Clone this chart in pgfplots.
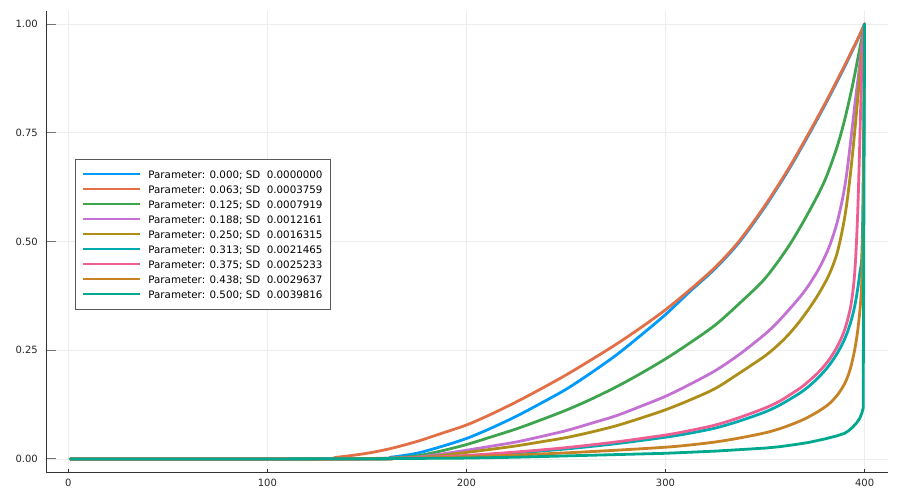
\documentclass[border=0pt]{standalone}
\usepackage{pgfplots}
\pgfplotsset{compat=1.18}
\usepackage{fontspec}
\setmainfont{DejaVu Sans}
\definecolor{jA}{RGB}{0,154,250}
\definecolor{jB}{RGB}{227,111,71}
\definecolor{jC}{RGB}{62,164,78}
\definecolor{jD}{RGB}{195,113,210}
\definecolor{jE}{RGB}{172,142,24}
\definecolor{jF}{RGB}{0,170,174}
\definecolor{jG}{RGB}{237,94,147}
\definecolor{jH}{RGB}{198,130,37}
\definecolor{jI}{RGB}{0,169,141}
\begin{document}
\begin{tikzpicture}
\useasboundingbox (0,0) rectangle (900bp,500bp);
\begin{axis}[
  at={(46.4bp,28bp)}, anchor=south west,
  scale only axis, width=842bp, height=461bp,
  xmin=-10.97, xmax=411.97, ymin=-0.03, ymax=1.03,
  axis x line*=bottom, axis y line*=left,
  axis line style={-, black!80, line width=0.9bp},
  xtick={0,100,200,300,400}, ytick={0,0.25,0.5,0.75,1},
  yticklabel style={/pgf/number format/fixed, /pgf/number format/fixed zerofill, /pgf/number format/precision=2, inner sep=0pt, xshift=-8.4bp},
  xticklabel style={inner sep=0pt, yshift=-7bp},
  /pgf/number format/assume math mode=true,
  tick label style={font=\fontsize{10bp}{12bp}\selectfont, black!85},
  tick align=inside,
  xtick style={black!80, line width=0.8bp},
  ytick style={black!55, line width=1bp},
  x tick style={/pgfplots/major tick length=3.5bp},
  y tick style={/pgfplots/major tick length=10bp},
  grid=major, major grid style={black!7, line width=0.7bp},
  every axis plot/.append style={line width=2.8bp, line join=round, line cap=round},
  legend cell align=left,
  legend image code/.code={\fill[#1, draw=none] (0bp,-1bp) rectangle (57bp,1bp);},
  legend style={at={(0.0336,0.679)}, anchor=north west, draw=black!65, line width=0.8bp,
    inner xsep=8.3bp, inner ysep=11.2bp, row sep=7.4bp, column sep=8bp,
    font=\fontsize{10.3bp}{12bp}\selectfont,
    nodes={inner sep=0pt, text height=7.6bp, text depth=0bp}},
]
\addplot[color=jA, smooth, tension=0.5] coordinates {(1,0)(150,0)(162,0.004)(175,0.013)(187,0.028)(200,0.047)(212,0.07)(225,0.098)(237,0.127)(250,0.16)(262,0.196)(275,0.238)(287,0.282)(300,0.332)(312,0.384)(325,0.438)(337,0.498)(350,0.58)(362,0.666)(372,0.746)(380,0.813)(386,0.866)(390,0.902)(394,0.94)(397,0.969)(400,1)};
\addlegendentry{Parameter: 0.000; SD~~0.0000000\hspace{20bp}}
\addplot[color=jB, smooth, tension=0.5] coordinates {(1,0)(121,0)(135,0.004)(150,0.013)(162,0.024)(175,0.04)(187,0.058)(200,0.078)(212,0.102)(225,0.131)(237,0.16)(250,0.193)(262,0.226)(275,0.263)(287,0.3)(300,0.343)(312,0.388)(325,0.441)(337,0.501)(350,0.583)(362,0.669)(372,0.749)(380,0.816)(386,0.869)(390,0.905)(394,0.942)(397,0.97)(400,1)};
\addlegendentry{Parameter: 0.063; SD~~0.0003759}
\addplot[color=jC, smooth, tension=0.5] coordinates {(1,0)(150,0)(162,0.002)(175,0.007)(187,0.018)(200,0.033)(212,0.05)(225,0.069)(237,0.089)(250,0.112)(262,0.136)(275,0.165)(287,0.195)(300,0.23)(312,0.266)(325,0.308)(337,0.357)(350,0.415)(362,0.49)(372,0.568)(380,0.64)(386,0.715)(390,0.78)(394,0.86)(397,0.93)(400,1)};
\addlegendentry{Parameter: 0.125; SD~~0.0007919}
\addplot[color=jD, smooth, tension=0.5] coordinates {(1,0)(150,0)(162,0.001)(175,0.004)(187,0.011)(200,0.02)(212,0.029)(225,0.039)(237,0.051)(250,0.065)(262,0.081)(275,0.099)(287,0.12)(300,0.144)(312,0.171)(325,0.203)(337,0.24)(350,0.287)(356,0.313)(362,0.343)(368,0.375)(372,0.4)(377,0.437)(382,0.485)(386,0.54)(389,0.6)(391,0.655)(393,0.73)(395,0.81)(397,0.885)(398.5,0.945)(400,1)};
\addlegendentry{Parameter: 0.188; SD~~0.0012161}
\addplot[color=jE, smooth, tension=0.5] coordinates {(1,0)(150,0)(162,0.001)(175,0.003)(187,0.008)(200,0.015)(212,0.022)(225,0.03)(237,0.039)(250,0.049)(262,0.061)(275,0.076)(287,0.093)(300,0.113)(312,0.135)(325,0.162)(337,0.197)(350,0.237)(357,0.264)(362,0.287)(367,0.314)(372,0.345)(377,0.38)(382,0.422)(386,0.47)(389,0.53)(391,0.585)(393,0.66)(395,0.75)(397,0.85)(398.5,0.925)(400,1)};
\addlegendentry{Parameter: 0.250; SD~~0.0016315}
\addplot[color=jF, smooth, tension=0.5] coordinates {(1,0)(125,0)(150,0.001)(175,0.002)(200,0.007)(225,0.014)(250,0.023)(275,0.035)(300,0.05)(312,0.059)(325,0.071)(337,0.087)(350,0.108)(357,0.123)(362,0.136)(368,0.153)(372,0.167)(377,0.188)(382,0.214)(386,0.241)(389,0.266)(391,0.287)(393,0.314)(395,0.35)(396.5,0.39)(397.7,0.43)(398.6,0.465)(399.2,0.6)(400,1)};
\addlegendentry{Parameter: 0.313; SD~~0.0021465}
\addplot[color=jG, smooth, tension=0.5] coordinates {(1,0)(125,0)(150,0.001)(175,0.003)(200,0.008)(225,0.016)(250,0.026)(275,0.039)(300,0.055)(312,0.065)(325,0.078)(337,0.095)(350,0.117)(357,0.132)(362,0.146)(368,0.164)(372,0.179)(377,0.2)(382,0.227)(386,0.256)(389,0.285)(391,0.312)(393,0.35)(394.5,0.4)(395.5,0.46)(396.5,0.56)(397.3,0.68)(398,0.8)(398.6,0.9)(399.2,0.97)(400,1)};
\addlegendentry{Parameter: 0.375; SD~~0.0025233}
\addplot[color=jH, smooth, tension=0.5] coordinates {(1,0)(125,0)(150,0.001)(175,0.002)(200,0.005)(225,0.009)(250,0.014)(275,0.02)(300,0.027)(312,0.032)(325,0.039)(337,0.048)(350,0.06)(357,0.069)(362,0.077)(368,0.088)(372,0.097)(377,0.11)(382,0.126)(386,0.145)(389,0.165)(391,0.183)(393,0.21)(395,0.25)(396.5,0.293)(397.5,0.335)(398.3,0.38)(398.9,0.45)(399.4,0.6)(400,1)};
\addlegendentry{Parameter: 0.438; SD~~0.0029637}
\addplot[color=jI, sharp plot] coordinates {(1,0)(100,0)(150,0.0005)(200,0.002)(225,0.004)(250,0.007)(275,0.01)(300,0.013)(325,0.018)(350,0.025)(357,0.028)(365,0.033)(372,0.038)(380,0.046)(386,0.053)(390,0.059)(392,0.065)(394,0.073)(396,0.083)(397.5,0.093)(398.6,0.105)(399.3,0.117)(400,1)};
\addlegendentry{Parameter: 0.500; SD~~0.0039816}
\end{axis}
\end{tikzpicture}
\end{document}
